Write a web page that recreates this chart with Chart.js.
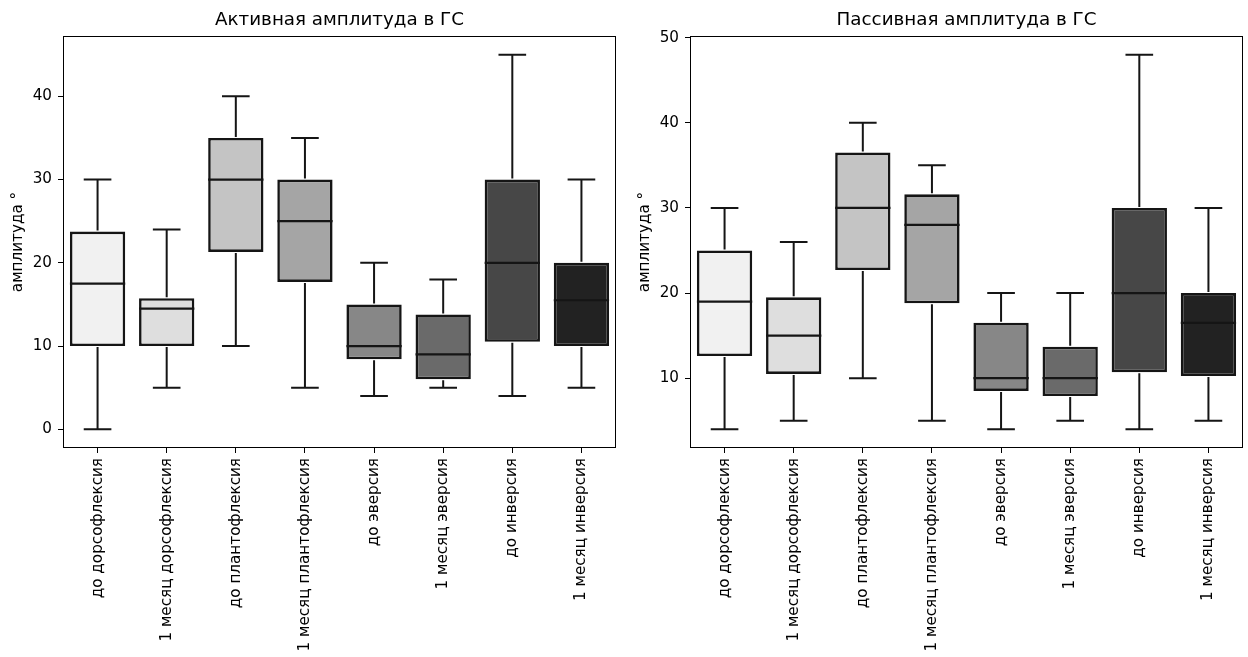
<!DOCTYPE html>
<html><head><meta charset="utf-8">
<script src="https://cdn.jsdelivr.net/npm/chart.js@4"></script>
<style>
html,body{margin:0;padding:0;background:#fff;}
#wrap{position:relative;width:1248px;height:657px;overflow:hidden;}
canvas{position:absolute;top:0;}
</style></head><body>
<div id="wrap">
<canvas id="c1" width="624" height="657" style="left:0"></canvas>
<canvas id="c2" width="624" height="657" style="left:624px"></canvas>
</div>
<script>
const categories = ['до дорсофлексия','1 месяц дорсофлексия','до плантофлексия','1 месяц плантофлексия','до эверсия','1 месяц эверсия','до инверсия','1 месяц инверсия'];

// Активная амплитуда
const activeLow  = [0, 5, 10, 5, 4, 5, 4, 5];
const activeQ1   = [10, 10, 21.3, 17.7, 8.4, 6, 10.5, 10];
const activeMed  = [17.5, 14.5, 30, 25, 10, 9, 20, 15.5];
const activeQ3   = [23.75, 15.75, 35, 30, 15, 13.8, 30, 20];
const activeHigh = [30, 24, 40, 35, 20, 18, 45, 30];
const activeTicks = [0, 10, 20, 30, 40];

// Пассивная амплитуда
const passiveLow  = [4, 5, 10, 5, 4, 5, 4, 5];
const passiveQ1   = [12.6, 10.5, 22.7, 18.8, 8.5, 7.9, 10.7, 10.25];
const passiveMed  = [19, 15, 30, 28, 10, 10, 20, 16.5];
const passiveQ3   = [25, 19.5, 36.5, 31.6, 16.5, 13.7, 30, 20];
const passiveHigh = [30, 26, 40, 35, 20, 20, 48, 30];
const passiveTicks = [10, 20, 30, 40, 50];

const palette = ['#f1f1f1','#dedede','#c4c4c4','#a5a5a5','#878787','#6a6a6a','#474747','#222222'];
const lineColor = '#151515';

Chart.defaults.font.family = "'DejaVu Sans', sans-serif";
Chart.defaults.color = '#000';

const boxExtras = {
  id: 'boxExtras',
  afterDatasetsDraw(chart, args, opts) {
    const {ctx, chartArea, scales: {x, y}} = chart;
    const meta = chart.getDatasetMeta(0);
    const s = opts.stats;
    ctx.save();
    ctx.strokeStyle = lineColor;
    meta.data.forEach((bar, i) => {
      const cx = x.getPixelForValue(i);
      const hw = bar.width / 2;
      const cw = hw * 0.5;
      const yl = y.getPixelForValue(s.low[i]);
      const yq1 = y.getPixelForValue(s.q1[i]);
      const ym = y.getPixelForValue(s.med[i]);
      const yq3 = y.getPixelForValue(s.q3[i]);
      const yh = y.getPixelForValue(s.high[i]);
      ctx.lineWidth = 2;
      ctx.beginPath();
      ctx.moveTo(cx, yq1 + 1); ctx.lineTo(cx, yl);
      ctx.moveTo(cx, yq3 - 1); ctx.lineTo(cx, yh);
      ctx.moveTo(cx - cw, yl); ctx.lineTo(cx + cw, yl);
      ctx.moveTo(cx - cw, yh); ctx.lineTo(cx + cw, yh);
      ctx.stroke();
      ctx.lineWidth = 2.2;
      ctx.beginPath();
      ctx.moveTo(cx - hw, ym); ctx.lineTo(cx + hw, ym);
      ctx.stroke();
    });
    ctx.lineWidth = 1;
    ctx.strokeStyle = '#000';
    const l = Math.round(chartArea.left) + 0.5, t = Math.round(chartArea.top) + 0.5;
    const r = Math.round(chartArea.right) - 0.5, b = Math.round(chartArea.bottom) - 0.5;
    ctx.strokeRect(l, t, r - l, b - t);
    ctx.restore();
  }
};

function makeChart(id, title, low, q1, med, q3, high, ticks, yMin, yMax, yWidth, padRight, yTitlePad) {
  return new Chart(document.getElementById(id), {
    type: 'bar',
    data: {
      labels: categories,
      datasets: [{
        data: q1.map((v, i) => [v, q3[i]]),
        backgroundColor: palette,
        borderColor: lineColor,
        borderWidth: 2.6,
        borderSkipped: false,
        categoryPercentage: 0.8,
        barPercentage: 1.0
      }]
    },
    options: {
      responsive: false,
      animation: false,
      layout: {padding: {left: 0, right: padRight, top: 0, bottom: 0}},
      plugins: {
        legend: {display: false},
        tooltip: {enabled: false},
        title: {
          display: true, text: title, fullSize: false,
          font: {size: 18.3, weight: 'normal'},
          padding: {top: 9, bottom: 5}, color: '#000'
        },
        boxExtras: {stats: {low, q1, med, q3, high}}
      },
      scales: {
        x: {
          type: 'category',
          offset: true,
          grid: {display: true, drawOnChartArea: false, drawTicks: true, tickLength: 5, offset: false, color: '#000'},
          border: {display: false},
          ticks: {font: {size: 15.2}, color: '#000', maxRotation: 90, minRotation: 90, autoSkip: false, padding: 5},
          afterFit(scale) { scale.height = 209; }
        },
        y: {
          min: yMin, max: yMax,
          grid: {display: true, drawOnChartArea: false, drawTicks: true, tickLength: 5, color: '#000'},
          border: {display: false},
          ticks: {font: {size: 15.2}, color: '#000', padding: 6},
          afterBuildTicks(scale) { scale.ticks = ticks.map(v => ({value: v})); },
          afterFit(scale) { scale.width = yWidth; },
          title: {display: true, text: 'амплитуда °', font: {size: 15.2}, color: '#000', padding: {top: yTitlePad, bottom: 0}}
        }
      }
    },
    plugins: [boxExtras]
  });
}

makeChart('c1', 'Активная амплитуда в ГС', activeLow, activeQ1, activeMed, activeQ3, activeHigh, activeTicks, -2.25, 47.25, 63, 8, 8.5);
makeChart('c2', 'Пассивная амплитуда в ГС', passiveLow, passiveQ1, passiveMed, passiveQ3, passiveHigh, passiveTicks, 1.8, 50.2, 66, 5, 11.5);
</script>
</body></html>
